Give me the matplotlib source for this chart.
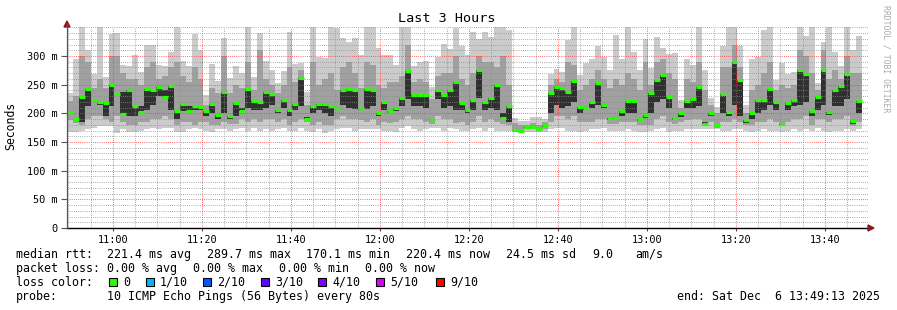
import numpy as np
import matplotlib
matplotlib.use('Agg')
import matplotlib.pyplot as plt
import matplotlib.dates as mdates
from matplotlib.patches import Rectangle, Polygon
import datetime as dt

# ---------------- data (ms), one value per 80 s step ----------------
median_ms = [203,190,229,242,224,220,218,249,234,199,240,212,202,243,241,246,228,248,204,217,204,212,211,
             204,216,197,237,195,218,204,243,221,220,237,234,205,224,205,216,261,190,212,216,217,212,
             209,240,243,240,209,242,240,201,220,204,209,226,273,232,232,232,188,240,232,241,254,218,205,
             224,275,220,227,250,191,213,171,170,177,177,173,180,235,246,245,238,257,211,209,220,252,
             214,191,192,204,222,222,190,197,236,258,266,229,192,201,222,225,246,181,201,180,233,203,290,
             258,188,200,223,223,243,220,182,218,224,275,268,204,228,275,202,240,248,268,186,221]
max_ms = [236,294,360,310,268,360,264,339,340,284,283,301,272,320,320,284,283,307,360,291,283,338,310,
          232,286,256,331,261,283,270,360,264,340,291,275,252,273,342,286,288,238,360,298,296,360,
          348,331,325,331,301,360,360,314,301,301,284,360,360,283,290,291,246,298,321,313,348,317,301,
          342,330,342,333,360,360,345,191,187,186,193,194,190,269,278,272,327,360,266,288,295,318,
          298,275,337,295,360,307,275,329,279,333,314,304,305,223,295,284,360,275,226,211,318,360,360,
          318,214,295,298,345,360,258,288,269,272,360,335,360,252,324,360,307,283,360,310,335]
hi_ms = [222,230,300,290,245,260,245,300,300,270,260,260,250,280,290,260,265,280,290,265,255,280,260,
         215,245,235,300,235,250,245,290,240,310,260,250,235,250,280,255,275,215,290,250,260,270,
         240,280,290,270,245,290,285,250,245,255,255,265,320,255,260,255,225,265,270,270,300,260,250,
         270,300,290,290,280,300,250,183,180,180,183,180,185,250,260,255,290,285,240,250,260,275,
         260,245,260,250,270,260,240,290,250,290,295,270,260,210,260,255,290,240,215,200,280,280,320,
         280,200,240,250,270,290,240,250,245,250,310,300,270,240,310,260,275,260,300,270,270]
core_ms = [202,190,185,212,224,215,196,212,234,237,196,195,212,205,215,230,240,205,190,204,212,205,205,
           195,200,190,200,190,196,210,210,205,205,210,214,200,210,196,205,212,194,200,205,200,195,
           210,215,210,208,205,208,212,196,205,200,204,212,225,212,212,210,190,225,210,212,205,205,200,
           205,226,205,210,205,200,185,171,170,174,175,173,177,200,215,210,212,220,200,205,210,215,
           210,188,190,196,200,200,186,192,200,220,225,210,188,194,210,210,212,185,195,178,200,195,214,
           195,183,190,200,205,215,205,180,205,212,215,220,196,205,215,197,212,212,225,182,200]
lo_ms = [188,183,180,190,195,195,190,185,195,185,180,180,185,185,190,190,195,190,180,185,185,180,185,
         185,180,180,185,182,182,190,185,190,185,190,190,185,190,180,185,190,185,180,185,180,180,
         190,195,190,190,188,185,190,180,185,183,185,190,195,190,190,185,182,195,190,190,183,185,180,
         185,195,185,190,185,182,180,170,168,172,172,170,173,185,195,195,190,195,185,185,185,190,
         190,182,182,185,185,185,180,180,180,190,195,185,182,185,188,190,190,180,185,175,185,185,190,
         185,180,180,185,185,190,185,178,185,190,190,195,180,190,190,185,190,190,195,178,185]
min_ms = [167,167,170,173,175,178,178,178,166,173,167,167,170,173,175,173,175,174,167,167,173,174,172,
          170,167,172,172,170,173,175,170,175,170,173,170,173,175,170,170,175,170,167,172,165,170,
          172,175,175,170,172,172,172,173,170,170,168,175,178,172,170,172,175,175,170,175,172,170,170,
          173,175,170,175,170,170,170,168,166,168,168,167,168,172,175,175,170,170,168,170,172,172,
          175,170,170,170,172,170,168,167,170,172,175,168,170,170,172,172,172,172,172,172,170,170,172,
          172,170,168,170,172,170,170,168,170,172,170,172,170,175,170,168,170,170,172,170,172]

start_time = dt.datetime(2025, 12, 6, 10, 49, 40)
end_time = dt.datetime(2025, 12, 6, 13, 49, 40)
step_s = 80

y_ticks = [0, 50, 100, 150, 200, 250, 300]
y_ticklabels = ['0', '50 m', '100 m', '150 m', '200 m', '250 m', '300 m']

title = 'Last 3 Hours'
ylabel = 'Seconds'
legend_rows = [
    [(16, 'median rtt:'), (107, '221.4 ms avg'), (206.5, '289.7 ms max'), (306, '170.1 ms min'),
     (406, '220.4 ms now'), (506, '24.5 ms sd'), (592, '9.0'), (635, 'am/s')],
    [(16, 'packet loss:'), (107, '0.00 % avg'), (193, '0.00 % max'), (279, '0.00 % min'), (365, '0.00 % now')],
    [(16, 'loss color:')],
    [(16, 'probe:'), (107, '10 ICMP Echo Pings (56 Bytes) every 80s')],
]
loss_labels = ['0', '1/10', '2/10', '3/10', '4/10', '5/10', '9/10']
loss_colors = ['#26ff00', '#00b8ff', '#0059ff', '#5e00ff', '#7e00ff', '#dd00ff', '#ff0000']
loss_box_x = [109, 146, 203, 261, 318, 376, 436]
end_text = 'end: Sat Dec  6 13:49:13 2025'

# ---------------- figure ----------------
W, H = 897, 310
plt.rcParams['font.family'] = ['DejaVu Sans Mono']
fig = plt.figure(figsize=(W / 100, H / 100), dpi=100)
fig.patch.set_facecolor('white')
ax_l, ax_r, ax_t, ax_b = 67, 868, 27.3, 228
ax = fig.add_axes([ax_l / W, (H - ax_b) / H, (ax_r - ax_l) / W, (ax_b - ax_t) / H])

n = len(median_ms)
times = [start_time + dt.timedelta(seconds=step_s * i) for i in range(n)]
x = mdates.date2num(times)
w = step_s / 86400.0

mn = np.array(min_ms, float)
mx = np.array(max_ms, float)
lo = np.array(lo_ms, float)
hi = np.array(hi_ms, float)
md = np.array(median_ms, float)
co = np.array(core_ms, float)

ax.bar(x, mx - mn, bottom=mn, width=w, align='edge', color='#cbcbcb', linewidth=0, zorder=1)
ax.bar(x, hi - lo, bottom=lo, width=w, align='edge', color='#a0a0a0', linewidth=0, zorder=1.1)
c_lo = np.minimum(md, co)
c_hi = np.maximum(md, co)
ax.bar(x, c_hi - c_lo, bottom=c_lo, width=w, align='edge', color='#303030', linewidth=0, zorder=1.2)
ax.hlines(md, x, x + w, colors=loss_colors[0], linewidth=2.3, zorder=4)

ax.set_xlim(mdates.date2num(start_time), mdates.date2num(end_time))
ax.set_ylim(0, 350)

# grid
ax.xaxis.set_major_locator(mdates.MinuteLocator(byminute=[0, 20, 40]))
ax.xaxis.set_minor_locator(mdates.MinuteLocator(byminute=range(0, 60, 5)))
ax.xaxis.set_major_formatter(mdates.DateFormatter('%H:%M'))
ax.set_yticks(y_ticks)
ax.set_yticklabels(y_ticklabels)
ax.set_yticks(np.arange(0, 351, 10), minor=True)
ax.set_axisbelow(False)
ax.grid(which='minor', color=(0.55, 0.55, 0.55, 0.55), linestyle=(0, (0.7, 1.5)), linewidth=0.7)
ax.grid(which='major', color=(1.0, 0.2, 0.2, 0.45), linestyle=(0, (0.7, 1.5)), linewidth=0.7)

for sp in ['top', 'right']:
    ax.spines[sp].set_visible(False)
ax.spines['left'].set_color('#555555')
ax.spines['left'].set_linewidth(0.8)
ax.spines['bottom'].set_color('black')
ax.spines['bottom'].set_linewidth(1.0)
ax.spines['bottom'].set_zorder(5)

ax.tick_params(axis='y', which='major', length=4, width=0.8, color='#555555', labelsize=7.4, pad=3)
ax.tick_params(axis='y', which='minor', length=0)
ax.tick_params(axis='x', which='major', length=2, width=0.8, color='#555555', labelsize=7.4, pad=3)
ax.tick_params(axis='x', which='minor', length=0)

# axis arrows
arrow_c = '#8b1a1a'
tx = fig.transFigure
fig.add_artist(plt.Line2D([ax_l / W, ax_l / W], [(H - ax_b) / H, (H - 23) / H], color='#555555', lw=0.8, transform=tx))
fig.add_artist(Polygon([[(ax_l - 3) / W, (H - 27) / H], [(ax_l + 3) / W, (H - 27) / H], [ax_l / W, (H - 21) / H]],
                       closed=True, color=arrow_c, transform=tx))
fig.add_artist(Polygon([[(ax_r) / W, (H - ax_b - 3) / H], [(ax_r) / W, (H - ax_b + 3) / H], [(ax_r + 6) / W, (H - ax_b) / H]],
                       closed=True, color=arrow_c, transform=tx))

# texts
fig.text(447 / W, 1 - 19 / H, title, ha='center', va='center', fontsize=9.7)
fig.text(11 / W, 1 - 126 / H, ylabel, rotation=90, ha='center', va='center', fontsize=8.3)
fig.text(886 / W, 1 - 59 / H, 'RRDTOOL / TOBI OETIKER', rotation=270, ha='center', va='center',
         fontsize=5.9, color='#aaaaaa')

FS = 8.4
row_y = [254.3, 268.3, 282.3, 296.3]
for yy, row in zip(row_y, legend_rows):
    for xx, txt in row:
        fig.text(xx / W, 1 - yy / H, txt, ha='left', va='center', fontsize=FS)
for bx, lab, col in zip(loss_box_x, loss_labels, loss_colors):
    fig.add_artist(Rectangle((bx / W, 1 - 286 / H), 7.7 / W, 7.7 / H, facecolor=col, edgecolor='black',
                             linewidth=0.8, transform=tx))
    fig.text((bx + 14) / W, 1 - 282.3 / H, lab, ha='left', va='center', fontsize=FS)
fig.text(880 / W, 1 - 296.3 / H, end_text, ha='right', va='center', fontsize=FS)

fig.savefig('out.png', dpi=100, facecolor='white')
